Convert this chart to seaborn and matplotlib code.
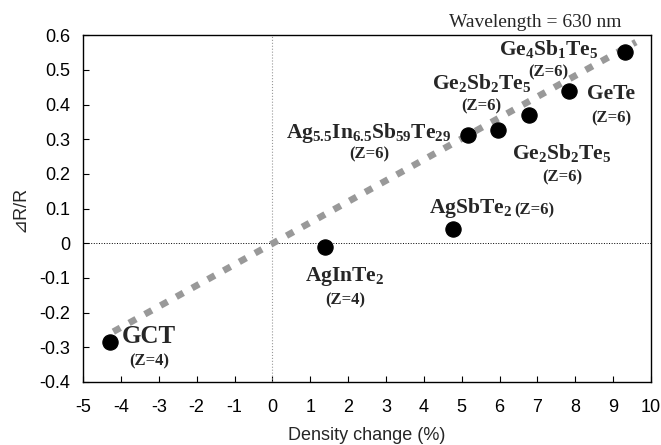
import matplotlib
matplotlib.use('Agg')
import matplotlib.pyplot as plt
import seaborn as sns
import pandas as pd

# measured points: density change (%) vs reflectance change
density_change = [-4.3, 1.38, 4.78, 5.17, 5.96, 6.78, 7.82, 9.3]
dr_over_r = [-0.285, -0.01, 0.041, 0.312, 0.326, 0.369, 0.439, 0.551]

# fitted trend line end points
trend_x = [-4.2, 9.6]
trend_y = [-0.255, 0.58]

# material labels (text, x, y, size)
names = ['GCT', 'AgInTe$_2$', 'AgSbTe$_2$', 'Ag$_{5.5}$In$_{6.5}$Sb$_{59}$Te$_{29}$',
         'Ge$_2$Sb$_2$Te$_5$', 'Ge$_2$Sb$_2$Te$_5$', 'GeTe', 'Ge$_4$Sb$_1$Te$_5$']
name_x = [-3.26, 1.92, 5.22, 2.55, 5.54, 7.65, 8.94, 7.31]
name_y = [-0.27, -0.097, 0.101, 0.318, 0.462, 0.26, 0.43, 0.56]
name_size = [18, 15.5, 15.5, 15.5, 15.5, 15.5, 15.5, 15.5]

# coordination number labels
z_text = ['(Z=4)', '(Z=4)', '(Z=6)', '(Z=6)', '(Z=6)', '(Z=6)', '(Z=6)', '(Z=6)']
z_x = [-3.26, 1.92, 6.91, 2.55, 5.51, 7.65, 8.94, 7.28]
z_y = [-0.342, -0.164, 0.096, 0.257, 0.395, 0.191, 0.361, 0.493]

sns.set_style('ticks')
plt.rcParams['font.family'] = ['Liberation Sans', 'DejaVu Sans']
plt.rcParams['mathtext.fontset'] = 'custom'
plt.rcParams['mathtext.rm'] = 'Liberation Serif:bold'
plt.rcParams['mathtext.it'] = 'Liberation Serif:bold'
plt.rcParams['mathtext.bf'] = 'Liberation Serif:bold'

df = pd.DataFrame({'x': density_change, 'y': dr_over_r})
trend = pd.DataFrame({'x': trend_x, 'y': trend_y})

fig = plt.figure(figsize=(6.61, 4.45), dpi=100)
ax = fig.add_axes([0.1256, 0.1416, 0.8594, 0.7794])

ax.axvline(0, color='#999999', lw=0.8, ls=':', zorder=1)
ax.axhline(0, color='black', lw=0.7, ls=':', zorder=1)

sns.lineplot(data=trend, x='x', y='y', ax=ax, color='#999999', lw=4.8,
             dashes=False, zorder=2)
ax.lines[-1].set_linestyle((0, (1.2, 1.5)))
ax.lines[-1].set_dash_capstyle('butt')

sns.scatterplot(data=df, x='x', y='y', ax=ax, color='black', s=120,
                edgecolor='black', zorder=3)

for t, x, y, s in zip(names, name_x, name_y, name_size):
    ax.text(x, y, t, fontsize=s, fontweight='bold', family='Liberation Serif',
            ha='center', va='center', zorder=4)
for t, x, y in zip(z_text, z_x, z_y):
    ax.text(x, y, t, fontsize=12, fontweight='bold', family='Liberation Serif',
            ha='center', va='center', zorder=4)

ax.text(6.94, 0.637, 'Wavelength = 630 nm', fontsize=14, family='Liberation Serif',
        ha='center', va='center', clip_on=False)

ax.set_xlim(-5, 10)
ax.set_ylim(-0.4, 0.6)
ax.set_xticks(range(-5, 11))
ax.set_xticklabels([str(v) for v in range(-5, 11)])
yt = [-0.4, -0.3, -0.2, -0.1, 0, 0.1, 0.2, 0.3, 0.4, 0.5, 0.6]
ax.set_yticks(yt)
ax.set_yticklabels(['0' if v == 0 else f'{v:.1f}' for v in yt])
ax.tick_params(direction='in', length=4, width=0.8, labelsize=13, colors='black')
ax.tick_params(axis='x', pad=12)
ax.tick_params(axis='y', pad=9)
ax.set_xlabel('Density change (%)', fontsize=13, labelpad=8)
ax.set_ylabel('⊿R/R', fontsize=13, labelpad=8)
for sp in ax.spines.values():
    sp.set_visible(True)
    sp.set_color('black')
    sp.set_linewidth(1.0)

fig.savefig('out.png', dpi=100)
